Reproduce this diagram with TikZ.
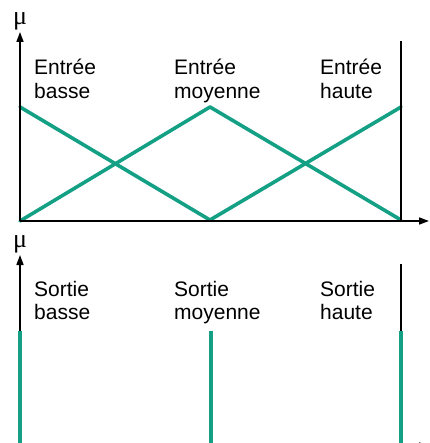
\documentclass[tikz,border=0pt]{standalone}
\usepackage{fontspec}
\setmainfont{Liberation Sans}
\newfontfamily\muserif{Liberation Serif}
\usetikzlibrary{arrows.meta}
\definecolor{mfgreen}{HTML}{14A084}
\tikzset{
  axis/.style={line width=1.6pt,-{Triangle[length=10pt,width=7pt]}},
  plainaxis/.style={line width=1.6pt},
  mf/.style={mfgreen,line width=3.6pt,line cap=round,line join=round},
  bar/.style={mfgreen,line width=3.6pt},
  lbl/.style={anchor=north west,inner sep=0pt,align=left,font=\fontsize{21}{23.5}\selectfont},
  mu/.style={inner sep=0pt,font=\muserif\fontsize{26}{28}\selectfont}
}
\begin{document}
\begin{tikzpicture}[x=1pt,y=-1pt]
\clip (0,0) rectangle (429,443);
% top chart
\coordinate (o1) at (20,221);
\coordinate (ytop1) at (20,32);
\coordinate (xend1) at (429,221);
\coordinate (rtop1) at (401,41);
\coordinate (rbot1) at (401,221);
\coordinate (lhi) at (20,107);
\coordinate (mlo) at (210,220);
\coordinate (mhi) at (210,107);
\coordinate (rhi) at (401,107);
\coordinate (rlo) at (401,220);
\draw[mf] (lhi) -- (mlo) -- (rhi);
\draw[mf] (o1) -- (mhi) -- (rlo);
\draw[axis] (o1) -- (ytop1);
\draw[axis] (o1) -- (xend1);
\draw[plainaxis] (rbot1) -- (rtop1);
\node[mu] (mu1) at (20,21) {μ};
\node[lbl] (e1) at (34,59) {Entrée\\basse};
\node[lbl] (e2) at (174,59) {Entrée\\moyenne};
\node[lbl] (e3) at (320,59) {Entrée\\haute};
% bottom chart
\coordinate (o2) at (20,446);
\coordinate (ytop2) at (20,255);
\coordinate (xend2) at (429,446);
\coordinate (rtop2) at (401,264);
\coordinate (rbot2) at (401,446);
\draw[axis] (o2) -- (ytop2);
\draw[axis] (o2) -- (xend2);
\draw[plainaxis] (rbot2) -- (rtop2);
\coordinate (b1t) at (20,331);
\coordinate (b2t) at (211,331);
\coordinate (b2b) at (211,446);
\coordinate (b3t) at (401,331);
\draw[bar] (o2) -- (b1t);
\draw[bar] (b2b) -- (b2t);
\draw[bar] (rbot2) -- (b3t);
\node[mu] (mu2) at (20,244) {μ};
\node[lbl] (s1) at (34,281) {Sortie\\basse};
\node[lbl] (s2) at (174,281) {Sortie\\moyenne};
\node[lbl] (s3) at (320,281) {Sortie\\haute};
\end{tikzpicture}
\end{document}
